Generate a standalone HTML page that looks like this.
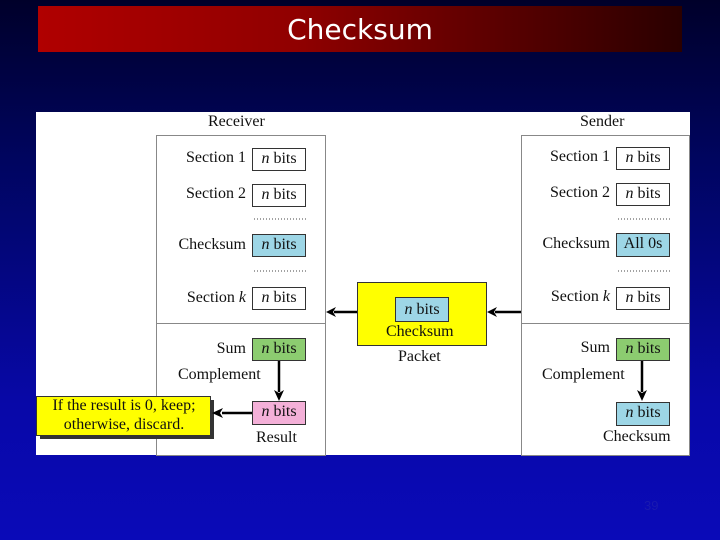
<!DOCTYPE html>
<html><head><style>
body{margin:0;width:720px;height:540px;overflow:hidden;background:linear-gradient(#00002a 0%,#000560 30%,#0808a8 75%,#0a0ab8 100%);font-family:"Liberation Serif",serif;position:relative}
.t{position:absolute;left:38px;top:6px;width:644px;height:46px;background:linear-gradient(90deg,#b00000,#900000 40%,#2a0000);color:#fff;font:normal 28px "Comic Sans MS","DejaVu Sans",sans-serif;text-align:center;line-height:48px}
.w{position:absolute;left:36px;top:112px;width:654px;height:343px;background:#fff}
.b{position:absolute;border:1px solid #333;box-sizing:border-box;font-size:16px;text-align:center;line-height:20px;color:#111}
.l{position:absolute;font-size:16px;color:#111;white-space:nowrap}
.r{text-align:right}
i{font-style:italic}
</style></head><body>
<div class="t">Checksum</div>
<div class="w"></div>
<svg style="position:absolute;left:0;top:0" width="720" height="540">
<rect x="156.5" y="135.5" width="169" height="320" fill="none" stroke="#888"/>
<line x1="156" y1="323.5" x2="325" y2="323.5" stroke="#888"/>
<rect x="521.5" y="135.5" width="168" height="320" fill="none" stroke="#888"/>
<line x1="521" y1="323.5" x2="689" y2="323.5" stroke="#888"/>
<rect x="357.5" y="282.5" width="129" height="63" fill="#ffff00" stroke="#333"/>
<rect x="40" y="400" width="174" height="39" fill="#333"/>
<rect x="36.5" y="396.5" width="174" height="39" fill="#ffff00" stroke="#333"/>
<g stroke="#000" stroke-width="2.5">
<line x1="521" y1="312" x2="495" y2="312"/><line x1="357" y1="312" x2="334" y2="312"/>
<line x1="279" y1="361" x2="279" y2="392"/><line x1="642" y1="361" x2="642" y2="392"/>
<line x1="252" y1="413" x2="222" y2="413"/>
</g>
<g fill="#000">
<path d="M487 312l10-5-3 5 3 5z"/><path d="M326 312l10-5-3 5 3 5z"/>
<path d="M279 401l-5-11 5 3 5-3z"/><path d="M642 401l-5-11 5 3 5-3z"/>
<path d="M212 413l11-5-3 5 3 5z"/>
</g>
<g stroke="#444" stroke-dasharray="1 2"><line x1="254" y1="219" x2="306" y2="219"/><line x1="254" y1="271" x2="306" y2="271"/><line x1="618" y1="219" x2="670" y2="219"/><line x1="618" y1="271" x2="670" y2="271"/></g>
</svg>
<div class="l" style="left:208px;top:113px">Receiver</div>
<div class="l" style="left:580px;top:113px">Sender</div>
<div class="b" style="left:252px;top:148px;width:54px;height:23px"><i>n</i> bits</div>
<div class="b" style="left:252px;top:184px;width:54px;height:23px"><i>n</i> bits</div>
<div class="b" style="left:252px;top:234px;width:54px;height:23px;background:#9dd6e6"><i>n</i> bits</div>
<div class="b" style="left:252px;top:287px;width:54px;height:23px"><i>n</i> bits</div>
<div class="b" style="left:252px;top:338px;width:54px;height:23px;background:#8ccc70"><i>n</i> bits</div>
<div class="b" style="left:252px;top:401px;width:54px;height:24px;background:#f4b0d8"><i>n</i> bits</div>
<div class="l r" style="right:474px;top:149px">Section 1</div>
<div class="l r" style="right:474px;top:185px">Section 2</div>
<div class="l r" style="right:474px;top:236px">Checksum</div>
<div class="l r" style="right:474px;top:289px">Section <i>k</i></div>
<div class="l r" style="right:474px;top:340px">Sum</div>
<div class="l" style="left:178px;top:366px">Complement</div>
<div class="l" style="left:256px;top:429px">Result</div>
<div class="b" style="left:616px;top:147px;width:54px;height:23px"><i>n</i> bits</div>
<div class="b" style="left:616px;top:183px;width:54px;height:23px"><i>n</i> bits</div>
<div class="b" style="left:616px;top:233px;width:54px;height:24px;background:#9dd6e6">All 0s</div>
<div class="b" style="left:616px;top:287px;width:54px;height:23px"><i>n</i> bits</div>
<div class="b" style="left:616px;top:338px;width:54px;height:23px;background:#8ccc70"><i>n</i> bits</div>
<div class="b" style="left:616px;top:402px;width:54px;height:24px;background:#9dd6e6"><i>n</i> bits</div>
<div class="l r" style="right:110px;top:148px">Section 1</div>
<div class="l r" style="right:110px;top:184px">Section 2</div>
<div class="l r" style="right:110px;top:235px">Checksum</div>
<div class="l r" style="right:110px;top:288px">Section <i>k</i></div>
<div class="l r" style="right:110px;top:339px">Sum</div>
<div class="l" style="left:542px;top:366px">Complement</div>
<div class="l" style="left:603px;top:428px">Checksum</div>
<div class="b" style="left:395px;top:297px;width:54px;height:25px;background:#9dd6e6;line-height:23px"><i>n</i> bits</div>
<div class="l" style="left:386px;top:323px">Checksum</div>
<div class="l" style="left:398px;top:348px">Packet</div>
<div class="l" style="left:37px;top:396px;width:174px;text-align:center;line-height:19px">If the result is 0, keep;<br>otherwise, discard.</div>
<div style="position:absolute;left:644px;top:498px;color:#1a1ab0;font:13px 'Liberation Sans',sans-serif">39</div>
</body></html>
